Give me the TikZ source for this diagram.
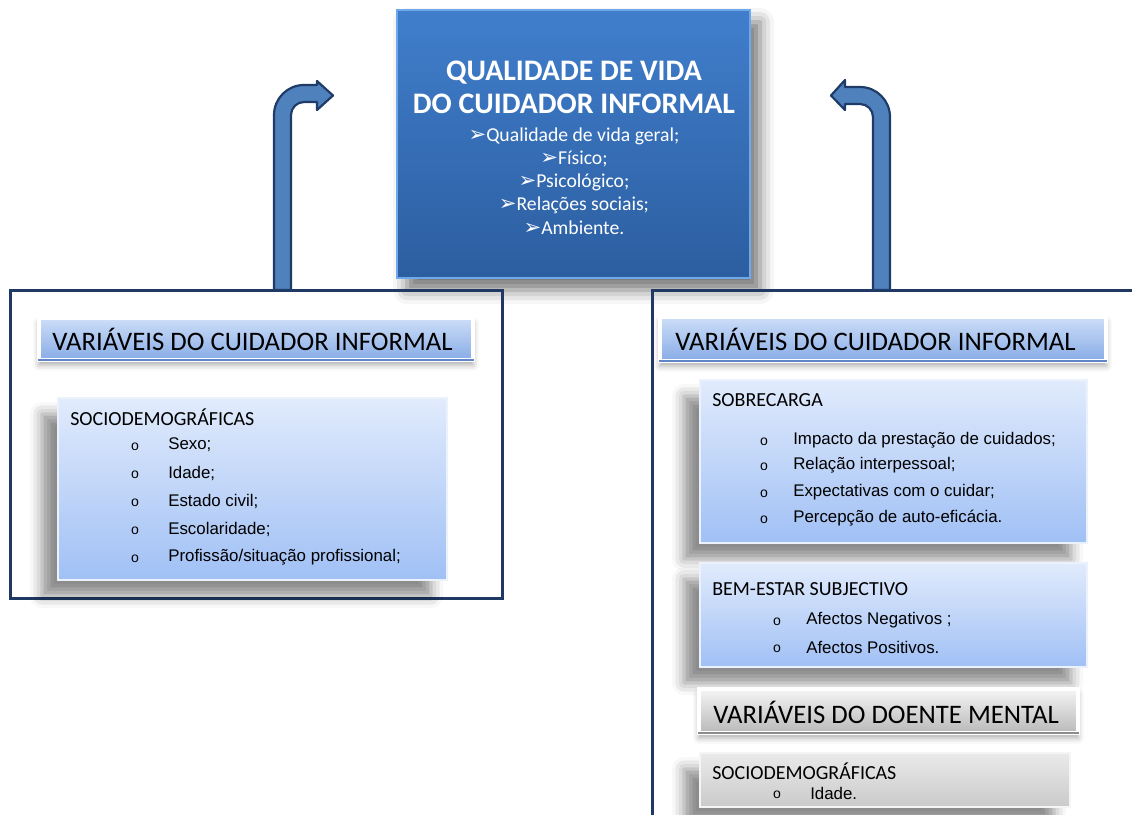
\documentclass[tikz,border=0pt]{standalone}
\usepackage{fontspec}
\setmainfont{Carlito}
\newfontfamily\arialFont{Liberation Sans}
\newfontfamily\symbolFont{DejaVu Sans}
\usetikzlibrary{
    shapes,
    calc,
    fit,
    positioning,
    shadows.blur,
}
\definecolor{frameBlue}{RGB}{31,56,100}
\definecolor{arrowBlue}{RGB}{79,129,189}
\definecolor{arrowLine}{RGB}{31,60,105}
\definecolor{mainTop}{RGB}{64,126,204}
\definecolor{mainBottom}{RGB}{44,94,160}
\definecolor{mainEdge}{RGB}{110,170,235}
\definecolor{headTop}{RGB}{205,222,248}
\definecolor{headBottom}{RGB}{135,172,230}
\definecolor{headEdge}{RGB}{95,135,200}
\definecolor{boxTop}{RGB}{225,235,252}
\definecolor{boxBottom}{RGB}{160,192,245}
\definecolor{boxEdge}{RGB}{235,242,253}
\definecolor{greyTop}{RGB}{245,245,245}
\definecolor{greyBottom}{RGB}{185,185,185}
\definecolor{greyEdge}{RGB}{140,140,140}
\definecolor{greyBoxTop}{RGB}{234,234,234}
\definecolor{greyBoxBottom}{RGB}{202,202,202}
\definecolor{greyBoxEdge}{RGB}{245,245,245}

\newcommand{\qvBullet}{{\symbolFont\fontsize{15}{16}\selectfont ➢}}

\begin{document}
\begin{tikzpicture}[x=0.25mm,y=-0.25mm]

    \tikzstyle{commonBox}=[rectangle, inner sep=0pt]
    \tikzstyle{mainBox}=[commonBox, top color=mainTop, bottom color=mainBottom, draw=mainEdge, line width=0.4mm,
        blur shadow={shadow xshift=2.5mm, shadow yshift=-3mm, shadow blur radius=3.5mm, shadow opacity=55}]
    \tikzstyle{header}=[commonBox, top color=headTop, bottom color=headBottom, draw=white, line width=1mm,
        blur shadow={shadow xshift=0mm, shadow yshift=-1.2mm, shadow blur radius=1.5mm, shadow opacity=35}]
    \tikzstyle{greyHeader}=[header, top color=greyTop, bottom color=greyBottom]
    \tikzstyle{lightBox}=[commonBox, top color=boxTop, bottom color=boxBottom, draw=boxEdge, line width=0.3mm,
        blur shadow={shadow xshift=-4mm, shadow yshift=-4mm, shadow blur radius=3mm, shadow opacity=45}]
    \tikzstyle{greyBox}=[lightBox, top color=greyBoxTop, bottom color=greyBoxBottom, draw=greyBoxEdge]
    \tikzstyle{frame}=[draw=frameBlue, line width=0.75mm]
    \tikzstyle{bigArrow}=[fill=arrowBlue, draw=arrowLine, line width=0.55mm, line join=round]
    \tikzstyle{headerText}=[anchor=west, inner sep=0pt, font=\fontsize{19}{22}\selectfont]
    \tikzstyle{boxTitle}=[anchor=west, inner sep=0pt, font=\fontsize{14.2}{17}\selectfont]
    \tikzstyle{itemText}=[anchor=west, inner sep=0pt, font=\arialFont\fontsize{12}{14}\selectfont]
    \tikzstyle{bulletText}=[anchor=center, inner sep=0pt, font=\arialFont\fontsize{10}{10}\selectfont]

    \useasboundingbox (0,0) rectangle (1132,814);

    % Quality of life (top)
    \node [mainBox, fit={(397,10) (750,278)}] (qv) {};
    \node at (574,87) [align=center, text=white, inner sep=0pt, font=\bfseries\fontsize{21.2}{23.5}\selectfont] (qvTitle)
        {QUALIDADE DE VIDA\\DO CUIDADOR INFORMAL};
    \node at (574,181) [align=center, text=white, inner sep=0pt, font=\fontsize{14}{16.5}\selectfont] (qvList)
        {\qvBullet Qualidade de vida geral;\\
         \qvBullet Físico;\\
         \qvBullet Psicológico;\\
         \qvBullet Relações sociais;\\
         \qvBullet Ambiente.};

    % Frames
    \draw [frame] (10,290) rectangle (502,598);
    \draw [frame] (1140,290) -| (652,820);

    % Arrows up to the top box
    \coordinate (leftFoot) at (274,290);
    \coordinate (rightFoot) at (890,290);
    \draw [bigArrow] (leftFoot) -- (274,115) arc[start angle=180, end angle=270, radius=30]
        -- (317,85) -- (317,81) -- (333,95.5) -- (317,110) -- (317,102) -- (304,102)
        arc[start angle=270, end angle=180, radius=13] -- (291,290) -- cycle;
    \draw [bigArrow] (rightFoot) -- (890,117) arc[start angle=0, end angle=-90, radius=30]
        -- (845,87) -- (845,80) -- (831,95.5) -- (845,110) -- (845,104) -- (860,104)
        arc[start angle=-90, end angle=0, radius=13] -- (873,290) -- cycle;

    % Left frame
    \node [header, fit={(39,318) (473,360)}] (hdrL) {};
    \draw [headEdge, line width=0.3mm] (hdrL.south west) ++(1,-2) -- ($(hdrL.south east)+(-1,-2)$);
    \node at (52,339) [headerText] (hdrLt) {VARIÁVEIS DO CUIDADOR INFORMAL};
    \node [lightBox, fit={(58,398) (447,580)}] (socioL) {};
    \node at (70,417) [boxTitle] (socioLt) {SOCIODEMOGRÁFICAS};
    \foreach \lbl [count=\i] in {Sexo;, Idade;, Estado civil;, Escolaridade;, Profissão/situação profissional;} {
        \node at (135,419+28*\i) [bulletText] (socioLb\i) {o};
        \node at (168,417+28*\i) [itemText] (socioLi\i) {\lbl};
    }

    % Right frame
    \node [header, fit={(660,317) (1106,361)}] (hdrR) {};
    \draw [headEdge, line width=0.3mm] (hdrR.south west) ++(1,-2) -- ($(hdrR.south east)+(-1,-2)$);
    \node at (675,339) [headerText] (hdrRt) {VARIÁVEIS DO CUIDADOR INFORMAL};

    \node [lightBox, fit={(700,380) (1087,543)}] (sobre) {};
    \node at (712,400) [boxTitle] (sobreT) {SOBRECARGA};
    \foreach \yy/\lbl [count=\i] in {440/Impacto da prestação de cuidados;, 465/Relação interpessoal;,
                                     492/Expectativas com o cuidar;, 518/Percepção de auto-eficácia.} {
        \node at (764,\yy+2) [bulletText] (sobreB\i) {o};
        \node at (793,\yy) [itemText] (sobreI\i) {\lbl};
    }

    \node [lightBox, fit={(700,563) (1087,667)}] (bem) {};
    \node at (712,589) [boxTitle] (bemT) {BEM-ESTAR SUBJECTIVO};
    \foreach \yy/\lbl [count=\i] in {620/Afectos Negativos ;, 647/Afectos Positivos.} {
        \node at (777,\yy+2) [bulletText] (bemB\i) {o};
        \node at (806,\yy) [itemText] (bemI\i) {\lbl};
    }

    \node [greyHeader, fit={(699,689) (1078,733)}] (hdrD) {};
    \draw [greyEdge, line width=0.3mm] (hdrD.south west) ++(1,-2) -- ($(hdrD.south east)+(-1,-2)$);
    \node at (713,712) [headerText] (hdrDt) {VARIÁVEIS DO DOENTE MENTAL};

    \node [greyBox, fit={(700,753) (1070,807)}] (socioD) {};
    \node at (712,771) [boxTitle] (socioDt) {SOCIODEMOGRÁFICAS};
    \node at (777,795) [bulletText] (socioDb) {o};
    \node at (810,793) [itemText] (socioDi) {Idade.};

\end{tikzpicture}
\end{document}
